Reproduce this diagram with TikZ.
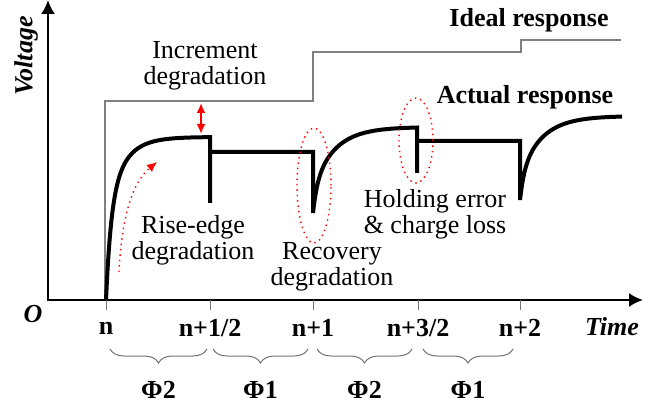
\documentclass[tikz,border=0pt]{standalone}
\usepackage{fontspec}
\setmainfont{Liberation Serif}
\usetikzlibrary{arrows.meta,decorations.pathreplacing,shapes.geometric}

\tikzset{
  idealline/.style={draw=black!50, line width=1pt},
  actualline/.style={line width=2pt, line join=miter},
  tickmark/.style={draw=black!55, line width=0.5pt},
  phasebrace/.style={draw=black!55, line width=0.5pt, decorate,
    decoration={brace, mirror, amplitude=7pt}},
  reddot/.style={red, dotted, line width=0.7pt},
  redell/.style={ellipse, draw=red, dotted, line width=0.7pt, inner sep=0pt},
  txt/.style={font=\fontsize{13}{13}\selectfont, align=center, inner sep=0pt},
  btxt/.style={txt, font=\fontsize{13}{13}\selectfont\bfseries},
  bitxt/.style={txt, font=\fontsize{13}{13}\selectfont\bfseries\itshape},
}

\begin{document}
\begin{tikzpicture}[x=0.5pt,y=-0.5pt]
\useasboundingbox (0,0) rectangle (658,406);
\coordinate (O) at (48,300);
\coordinate (Vtop) at (48,0);
\coordinate (Tend) at (643,300);

\draw[line width=1pt,{Latex[length=7pt,width=7pt]}-{Latex[length=7pt,width=7pt]}] (Vtop) |- (Tend);
\node[bitxt,rotate=90] (vlab) at (26,56) {Voltage};
\node[bitxt] (tlab) at (612,327) {Time};
\node[bitxt] (olab) at (33,314) {O};

\foreach \xt/\lab [count=\i] in {106/{n},210/{n+1/2},313/{n+1},418/{n+3/2},520/{n+2}}{
  \coordinate (t\i) at (\xt,300);
  \draw[tickmark] (t\i) -- ++(0,10);
  \node[btxt] (tl\i) at (\xt,328) {\lab};
}

\foreach \xa/\xb/\ph [count=\i] in {110/207/2,213/308/1,317/412/2,423/513/1}{
  \coordinate (ba\i) at (\xa,349);
  \coordinate (bb\i) at (\xb,349);
  \draw[phasebrace] (ba\i) -- (bb\i);
  \node[btxt] (ph\i) at ({(\xa+\xb)/2},390) {Φ\ph};
}

\draw[idealline] (105,300) |- (313,101) |- (521,52) |- (621,40);
\node[btxt] (ideal) at (529,20) {Ideal response};

\draw[actualline] plot[domain=106:210,samples=120]
  (\x,{137+163*(0.55*exp(-(\x-106)/5)+0.45*exp(-(\x-106)/17))}) -- (210,203);
\draw[actualline] (212,152) -- (313,152) -- plot[domain=313:417,samples=120]
  (\x,{127+86*(0.3*exp(-(\x-313)/4)+0.7*exp(-(\x-313)/22))}) -- (417,173);
\draw[actualline] (419,141) -- (520,141) -- plot[domain=520:622,samples=120]
  (\x,{116+84*(0.3*exp(-(\x-520)/4)+0.7*exp(-(\x-520)/22))});
\node[btxt] (actual) at (525,97) {Actual response};

\coordinate (incA) at (201,103);
\coordinate (incB) at (201,134);
\draw[red,line width=1pt,{Latex[length=5pt,width=4.5pt]}-{Latex[length=5pt,width=4.5pt]}] (incA) -- (incB);
\node[txt] (incr) at (205,66) {Increment\\degradation};

\coordinate (riseA) at (119,272);
\coordinate (riseB) at (157,162);
\draw[reddot,-{Latex[length=5pt,width=4.5pt]}] (riseA) .. controls (122,210) and (135,180) .. (riseB);
\node[txt] (rise) at (193,240) {Rise-edge\\degradation};

\node[redell,minimum width=17pt,minimum height=57.5pt] (recell) at (314,185.5) {};
\node[txt] (recv) at (332,267) {Recovery\\degradation};

\node[redell,minimum width=17pt,minimum height=42.5pt] (holdell) at (416,140.5) {};
\node[txt,align=left] (hold) at (435,214) {Holding error\\\& charge loss};
\end{tikzpicture}
\end{document}
